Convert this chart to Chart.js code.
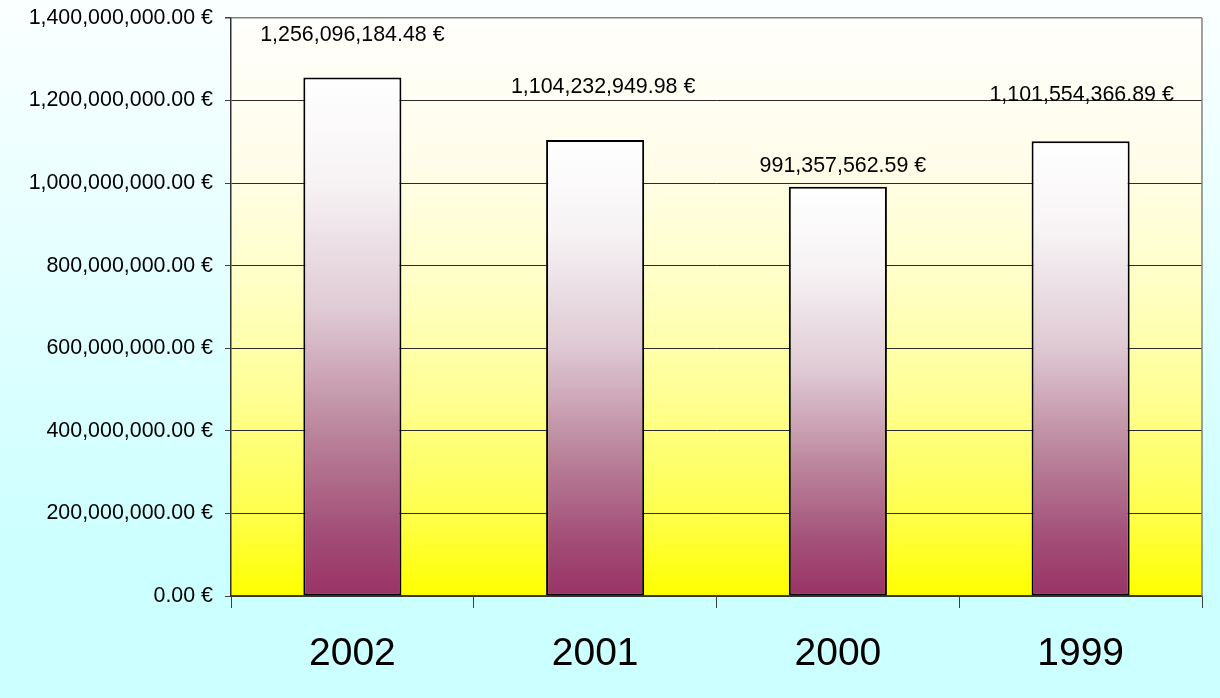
<!DOCTYPE html>
<html>
<head>
<meta charset="utf-8">
<script src="https://cdn.jsdelivr.net/npm/chart.js@4/dist/chart.umd.min.js"></script>
<style>
  html, body { margin: 0; padding: 0; width: 1220px; height: 698px; overflow: hidden; }
  #wrap { position: relative; width: 1220px; height: 698px; }
</style>
</head>
<body>
<div id="wrap"><canvas id="c" width="1220" height="698"></canvas></div>
<script>
// ---- data ----
const categories = ['2002', '2001', '2000', '1999'];
const values = [1256096184.48, 1104232949.98, 991357562.59, 1101554366.89];
const yTicks = [0, 200000000, 400000000, 600000000, 800000000, 1000000000, 1200000000, 1400000000];

// label placement (pixel offsets from the bar top, as in the original's dragged labels)
const labelDx = [0, 8, 5, 1];
const labelDy = [42, 53, 21, 46];

const FONT = '"Liberation Sans", Arial, Helvetica, sans-serif';
const fmt = v => v.toLocaleString('en-US', { minimumFractionDigits: 2, maximumFractionDigits: 2 }) + ' €';

const bgPlugin = {
  id: 'bg',
  beforeDraw(chart) {
    const { ctx, width, height, chartArea: a } = chart;
    ctx.save();
    const g = ctx.createLinearGradient(0, 0, 0, height);
    g.addColorStop(0, '#fbffff');
    g.addColorStop(0.8, '#ccffff');
    g.addColorStop(1, '#ccffff');
    ctx.fillStyle = g;
    ctx.fillRect(0, 0, width, height);
    const p = ctx.createLinearGradient(0, a.top, 0, a.bottom);
    p.addColorStop(0, '#fffffc');
    p.addColorStop(0.25, '#fffdea');
    p.addColorStop(0.45, '#ffffc8');
    p.addColorStop(0.65, '#ffff96');
    p.addColorStop(0.85, '#ffff50');
    p.addColorStop(1, '#ffff00');
    ctx.fillStyle = p;
    ctx.fillRect(a.left, a.top, a.right - a.left, a.bottom - a.top);
    ctx.restore();
  },
  afterDatasetsDraw(chart) {
    const { ctx, chartArea: a } = chart;
    ctx.save();
    // right border of plot area
    ctx.strokeStyle = '#808080';
    ctx.lineWidth = 1.5;
    ctx.beginPath();
    ctx.moveTo(a.right, a.top);
    ctx.lineTo(a.right, a.bottom);
    ctx.stroke();
    // value labels
    const meta = chart.getDatasetMeta(0);
    ctx.fillStyle = '#000';
    ctx.font = '21.4px ' + FONT;
    ctx.textAlign = 'center';
    ctx.textBaseline = 'middle';
    meta.data.forEach((bar, i) => {
      ctx.fillText(fmt(values[i]), bar.x + labelDx[i], bar.y - labelDy[i]);
    });
    ctx.restore();
  }
};

function barGradient(context) {
  const chart = context.chart;
  const ys = chart.scales && chart.scales.y;
  if (!ys || !chart.chartArea || context.raw === undefined) return '#993366';
  const top = ys.getPixelForValue(context.raw);
  const bot = ys.getPixelForValue(0);
  const g = chart.ctx.createLinearGradient(0, top, 0, bot);
  g.addColorStop(0, '#ffffff');
  g.addColorStop(0.2, '#f7f3f5');
  g.addColorStop(0.45, '#dfcad4');
  g.addColorStop(0.7, '#b88098');
  g.addColorStop(0.88, '#a24d77');
  g.addColorStop(1, '#993366');
  return g;
}

new Chart(document.getElementById('c'), {
  type: 'bar',
  data: {
    labels: categories,
    datasets: [{
      data: values,
      backgroundColor: barGradient,
      borderColor: '#000000',
      borderWidth: 2,
      borderSkipped: false,
      barPercentage: 0.404,
      categoryPercentage: 1.0
    }]
  },
  plugins: [bgPlugin],
  options: {
    responsive: false,
    animation: false,
    devicePixelRatio: 1,
    layout: { padding: { left: 0, right: 18, top: 18, bottom: 0 } },
    plugins: { legend: { display: false }, tooltip: { enabled: false }, title: { display: false } },
    scales: {
      x: {
        offset: true,
        grid: {
          offset: true,
          drawOnChartArea: false,
          drawTicks: true,
          tickLength: 12,
          color: '#404040',
          lineWidth: 1
        },
        border: { display: true, color: '#404040', width: 1.5 },
        ticks: {
          color: '#000',
          font: { family: FONT, size: 39 },
          padding: 23
        },
        afterFit(scale) { scale.height = 102; scale.paddingLeft = 0; scale.paddingRight = 0; }
      },
      y: {
        min: 0,
        max: 1400000000,
        afterBuildTicks(scale) { scale.ticks = yTicks.map(v => ({ value: v })); },
        grid: {
          color: ctx => (ctx.tick && ctx.tick.value === 1400000000) ? '#808080' : '#2a2a2a',
          lineWidth: ctx => (ctx.tick && ctx.tick.value === 1400000000) ? 1.5 : 1,
          drawTicks: true,
          tickLength: 6,
          tickColor: '#404040'
        },
        border: { display: true, color: '#303030', width: 1.5 },
        ticks: {
          color: '#000',
          font: { family: FONT, size: 21.4 },
          padding: 12,
          callback: v => fmt(v)
        },
        afterFit(scale) { scale.width = 231; scale.paddingTop = 0; scale.paddingBottom = 0; }
      }
    }
  }
});
</script>
</body>
</html>
